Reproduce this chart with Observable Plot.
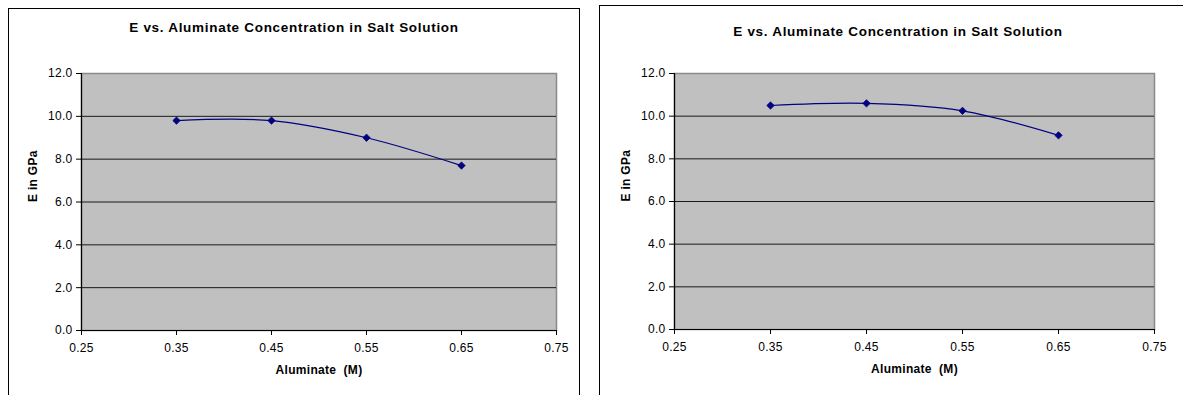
<!DOCTYPE html>
<html>
<head>
<meta charset="utf-8">
<script src="https://cdn.jsdelivr.net/npm/d3@7"></script>
<script src="https://cdn.jsdelivr.net/npm/@observablehq/plot@0.6"></script>
<style>
  html, body { margin: 0; padding: 0; background: #fff; width: 1183px; height: 395px; overflow: hidden; }
  body { position: relative; font-family: "Liberation Sans", Arial, sans-serif; }
  .panel { position: absolute; box-sizing: border-box; border: 1.5px solid #000; background: #fff; }
  .title { position: absolute; text-align: center; font-weight: bold; font-size: 13.5px; letter-spacing: 0.7px; line-height: 16px; color: #000; }
  .chart { position: absolute; }
  .chart svg text { letter-spacing: 0.3px; }
</style>
</head>
<body>
<script>
// Young's modulus of salt-solution samples against aluminate concentration
const aluminate = [0.35, 0.45, 0.55, 0.65];        // M
const modulusA = [9.8, 9.8, 9.0, 7.7];              // GPa, first sample set
const modulusB = [10.5, 10.6, 10.25, 9.1];          // GPa, second sample set
const xTicks = [0.25, 0.35, 0.45, 0.55, 0.65, 0.75];
const yTicks = [0, 2, 4, 6, 8, 10, 12];
const gridValues = [2, 4, 6, 8, 10];
const titleText = "E vs. Aluminate Concentration in Salt Solution";
const xLabel = "Aluminate  (M)";
const yLabel = "E in GPa";

function chart(values, {width, height, marginLeft, marginRight, marginTop, marginBottom}) {
  const data = aluminate.map((x, i) => ({x, y: values[i]}));
  return Plot.plot({
    width, height, marginLeft, marginRight, marginTop, marginBottom,
    style: {background: "transparent", fontFamily: "'Liberation Sans', Arial, sans-serif", fontSize: "12px", color: "#000"},
    x: {domain: [0.25, 0.75]},
    y: {domain: [0, 12]},
    marks: [
      Plot.frame({fill: "#c0c0c0", stroke: "#8a8a8a", strokeWidth: 1.5}),
      Plot.gridY(gridValues, {stroke: "#1a1a1a", strokeOpacity: 1, strokeWidth: 1}),
      Plot.ruleX([0.25], {stroke: "#000", strokeWidth: 1.2}),
      Plot.ruleY([0], {stroke: "#000", strokeWidth: 1.2}),
      Plot.axisX(xTicks, {tickSize: 5, tickPadding: 8, tickFormat: d => d.toFixed(2), label: null, fontSize: 12}),
      Plot.axisY(yTicks, {tickSize: 5, tickPadding: 4, tickFormat: d => d.toFixed(1), label: null, fontSize: 12}),
      Plot.text([xLabel], {frameAnchor: "bottom", dy: 43, fontWeight: "bold", fontSize: 12}),
      Plot.text([yLabel], {frameAnchor: "left", dx: -48, rotate: -90, fontWeight: "bold", fontSize: 12}),
      Plot.line(data, {x: "x", y: "y", curve: "cardinal", stroke: "#000080", strokeWidth: 1.2}),
      Plot.dot(data, {x: "x", y: "y", symbol: "diamond2", r: 3.3, fill: "#000080", stroke: "#000080", strokeWidth: 0.8})
    ]
  });
}

function panel({box, title, svgPos, values, dims}) {
  const p = document.createElement("div");
  p.className = "panel";
  Object.assign(p.style, {left: box.left + "px", top: box.top + "px", width: box.width + "px", height: box.height + "px"});
  document.body.appendChild(p);

  const t = document.createElement("div");
  t.className = "title";
  t.textContent = titleText;
  Object.assign(t.style, {left: title.left + "px", top: title.top + "px", width: title.width + "px"});
  document.body.appendChild(t);

  const c = document.createElement("div");
  c.className = "chart";
  Object.assign(c.style, {left: svgPos.left + "px", top: svgPos.top + "px"});
  c.appendChild(chart(values, dims));
  document.body.appendChild(c);
}

panel({
  box: {left: 8, top: 8, width: 572, height: 420},
  title: {left: 8, top: 20, width: 572},
  svgPos: {left: 10, top: 10},
  values: modulusA,
  dims: {width: 560, height: 380, marginLeft: 71, marginRight: 14, marginTop: 63, marginBottom: 60}
});

panel({
  box: {left: 599, top: 5, width: 640, height: 420},
  title: {left: 599, top: 24, width: 598},
  svgPos: {left: 601, top: 7},
  values: modulusB,
  dims: {width: 570, height: 383, marginLeft: 73, marginRight: 17, marginTop: 66, marginBottom: 61}
});
</script>
</body>
</html>
